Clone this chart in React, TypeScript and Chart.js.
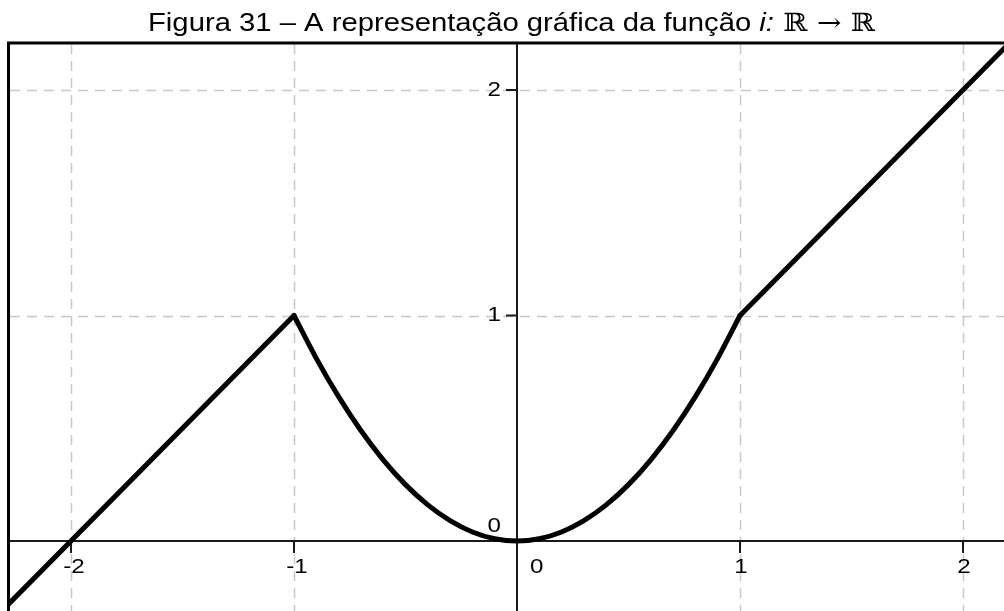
import React, { useEffect, useRef } from "react";
import { Chart, registerables } from "chart.js";

Chart.register(...registerables);

// Piecewise function i: left branch, parabola, right branch
const leftX = [-2.3, -1];
const leftY = [-0.3, 1];
const parabolaX = [-1, -0.9, -0.8, -0.7, -0.6, -0.5, -0.4, -0.3, -0.2, -0.1, 0, 0.1, 0.2, 0.3, 0.4, 0.5, 0.6, 0.7, 0.8, 0.9, 1];
const parabolaY = [1, 0.81, 0.64, 0.49, 0.36, 0.25, 0.16, 0.09, 0.04, 0.01, 0, 0.01, 0.04, 0.09, 0.16, 0.25, 0.36, 0.49, 0.64, 0.81, 1];
const rightX = [1, 2.2];
const rightY = [1, 2.2];

const xTicks = [-2, -1, 0, 1, 2];
const yTicks = [0, 1, 2];
const xTickLabels = ["-2", "-1", "0", "1", "2"];
const yTickLabels = ["0", "1", "2"];

const titleMain = "Figura 31 – A representação gráfica da função ";
const titleItalic = "i:";
const titleSets = " ℝ → ℝ";

const toPoints = (xs: number[], ys: number[]) => xs.map((x, i) => ({ x, y: ys[i] }));

const LABEL_FONT = '21px "Liberation Sans", Arial, sans-serif';
const LABEL_STRETCH = 1.15;

// draws a label widened horizontally around its anchor
function drawLabel(ctx: CanvasRenderingContext2D, text: string, x: number, y: number, align: CanvasTextAlign) {
  ctx.save();
  ctx.translate(x, y);
  ctx.scale(LABEL_STRETCH, 1);
  ctx.textAlign = align;
  ctx.fillText(text, 0, 0);
  ctx.restore();
}

const geoPlugin = {
  id: "geoAxes",
  beforeDatasetsDraw(chart: any) {
    const { ctx, chartArea } = chart;
    const xs = chart.scales.x;
    const ys = chart.scales.y;
    const x0 = xs.getPixelForValue(0);
    const y0 = ys.getPixelForValue(0);
    ctx.save();
    // dashed grid
    ctx.strokeStyle = "#c8c8c8";
    ctx.lineWidth = 1.5;
    ctx.setLineDash([10, 7]);
    xTicks.forEach((v) => {
      if (v === 0) return;
      const px = Math.round(xs.getPixelForValue(v)) + 0.5;
      ctx.beginPath();
      ctx.moveTo(px, chartArea.top);
      ctx.lineTo(px, chartArea.bottom);
      ctx.stroke();
    });
    yTicks.forEach((v) => {
      if (v === 0) return;
      const py = Math.round(ys.getPixelForValue(v)) + 0.5;
      ctx.beginPath();
      ctx.moveTo(chartArea.left, py);
      ctx.lineTo(chartArea.right, py);
      ctx.stroke();
    });
    ctx.setLineDash([]);
    // axes
    ctx.strokeStyle = "#1a1a1a";
    ctx.lineWidth = 2;
    ctx.beginPath();
    ctx.moveTo(chartArea.left, y0);
    ctx.lineTo(chartArea.right, y0);
    ctx.moveTo(x0, chartArea.top);
    ctx.lineTo(x0, chartArea.bottom);
    ctx.stroke();
    // tick marks
    xTicks.forEach((v) => {
      if (v === 0) return;
      const px = xs.getPixelForValue(v);
      ctx.beginPath();
      ctx.moveTo(px, y0);
      ctx.lineTo(px, y0 + 12);
      ctx.stroke();
    });
    yTicks.forEach((v) => {
      if (v === 0) return;
      const py = ys.getPixelForValue(v);
      ctx.beginPath();
      ctx.moveTo(x0 - 11, py);
      ctx.lineTo(x0, py);
      ctx.stroke();
    });
    // tick labels
    ctx.fillStyle = "#000";
    ctx.font = LABEL_FONT;
    ctx.textBaseline = "middle";
    xTicks.forEach((v, i) => {
      const px = xs.getPixelForValue(v);
      if (v === 0) {
        drawLabel(ctx, xTickLabels[i], px + 13, y0 + 26, "left");
      } else {
        drawLabel(ctx, xTickLabels[i], px + (v < 0 ? 3 : 1), y0 + 26, "center");
      }
    });
    yTicks.forEach((v, i) => {
      const py = ys.getPixelForValue(v);
      drawLabel(ctx, yTickLabels[i], x0 - 16, v === 0 ? py - 15 : py, "right");
    });
    ctx.restore();
  },
  afterDraw(chart: any) {
    const { ctx, chartArea } = chart;
    ctx.save();
    // frame (left and top edges)
    ctx.strokeStyle = "#000";
    ctx.lineWidth = 3;
    ctx.beginPath();
    ctx.moveTo(chartArea.left - 1.5, chartArea.bottom);
    ctx.lineTo(chartArea.left - 1.5, chartArea.top - 1);
    ctx.lineTo(chartArea.right, chartArea.top - 1);
    ctx.stroke();
    ctx.restore();

    // title, stretched horizontally to span the heading width
    ctx.save();
    const mainFont = '25px "Liberation Sans", Arial, sans-serif';
    const italicFont = 'italic 25px "Liberation Sans", Arial, sans-serif';
    const setFont = '25px "DejaVu Serif", "Liberation Serif", serif';
    ctx.fillStyle = "#000";
    ctx.textBaseline = "alphabetic";
    ctx.textAlign = "left";
    ctx.font = mainFont;
    const w1 = ctx.measureText(titleMain).width;
    ctx.font = italicFont;
    const w2 = ctx.measureText(titleItalic).width;
    ctx.font = setFont;
    const w3 = ctx.measureText(titleSets).width;
    const total = w1 + w2 + w3;
    const targetWidth = 727;
    const sx = targetWidth / total;
    ctx.translate(148, 31);
    ctx.scale(sx, 1);
    let x = 0;
    ctx.font = mainFont;
    ctx.fillText(titleMain, x, 0);
    x += w1;
    ctx.font = italicFont;
    ctx.fillText(titleItalic, x, 0);
    x += w2;
    ctx.font = setFont;
    ctx.fillText(titleSets, x, 0);
    ctx.restore();
  },
};

export default function App() {
  const canvasRef = useRef<HTMLCanvasElement | null>(null);

  useEffect(() => {
    if (!canvasRef.current) return;
    const lineStyle = {
      showLine: true,
      borderColor: "#000",
      borderWidth: 5,
      pointRadius: 0,
      fill: false,
      borderJoinStyle: "round" as const,
      borderCapStyle: "round" as const,
    };
    const chart = new Chart(canvasRef.current, {
      type: "scatter",
      data: {
        datasets: [
          { ...lineStyle, data: toPoints(leftX, leftY) },
          { ...lineStyle, data: toPoints(parabolaX, parabolaY), cubicInterpolationMode: "monotone" },
          { ...lineStyle, data: toPoints(rightX, rightY) },
        ],
      },
      options: {
        responsive: false,
        animation: false,
        devicePixelRatio: 1,
        layout: { padding: { left: 10, top: 44, right: 0, bottom: 0 } },
        plugins: { legend: { display: false }, tooltip: { enabled: false }, title: { display: false } },
        scales: {
          x: { type: "linear", display: false, min: -2.2735, max: 2.1839 },
          y: { type: "linear", display: false, min: -0.3104, max: 2.204 },
        },
      },
      plugins: [geoPlugin],
    });
    return () => chart.destroy();
  }, []);

  return (
    <div style={{ position: "absolute", left: 0, top: 0, width: 1004, height: 611, background: "#fff" }}>
      <canvas ref={canvasRef} width={1004} height={611} />
    </div>
  );
}
